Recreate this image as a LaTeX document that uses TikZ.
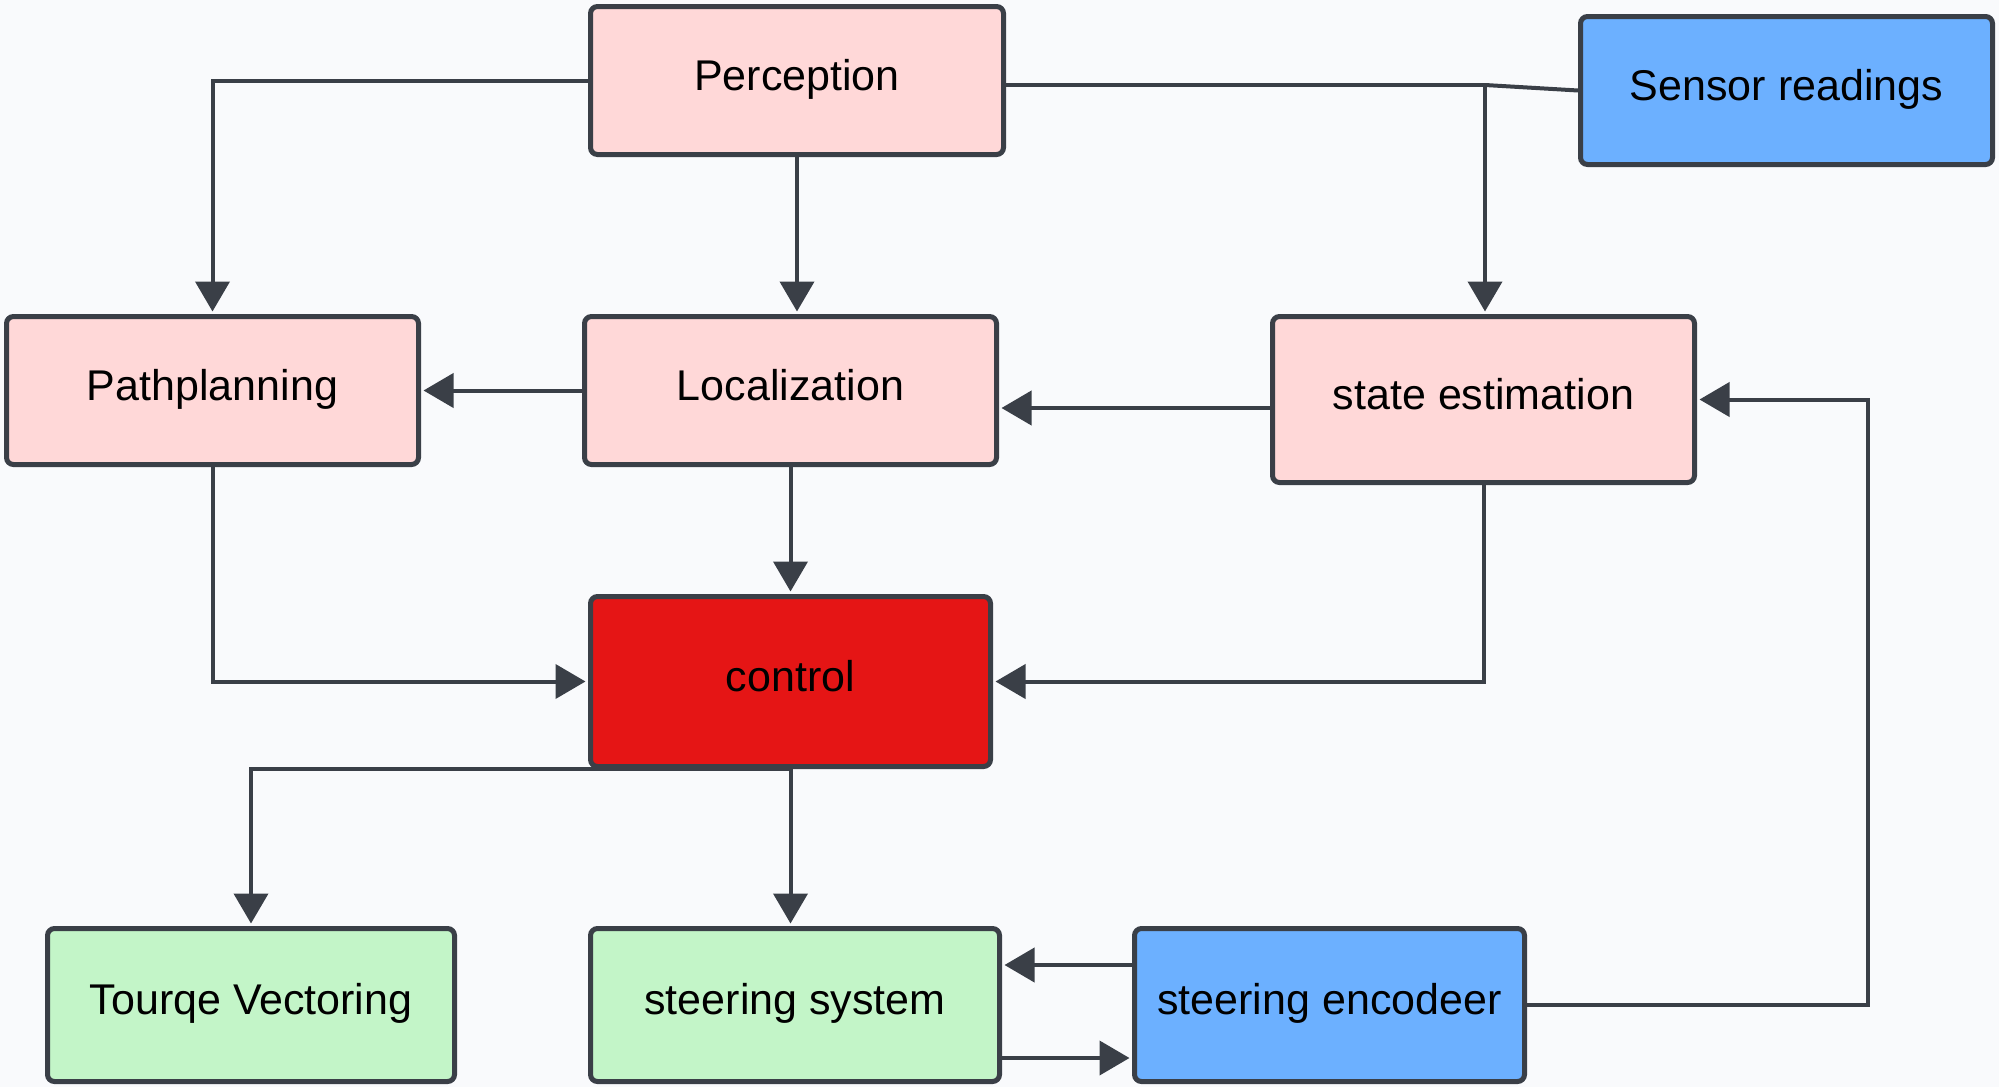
\documentclass[tikz,border=0pt]{standalone}
\usepackage{fontspec}
\setmainfont{Liberation Sans}
\usetikzlibrary{arrows.meta,calc}
\definecolor{bgc}{HTML}{F9FAFC}
\definecolor{lnc}{HTML}{3A3F47}
\definecolor{pinkf}{HTML}{FFD8D8}
\definecolor{bluef}{HTML}{6CB0FF}
\definecolor{redf}{HTML}{E51515}
\definecolor{greenf}{HTML}{C3F5C8}
\tikzset{
  box/.style={draw=lnc, line width=5pt, rounded corners=7pt, inner sep=0pt,
    font=\fontsize{43}{50}\selectfont, text height=31pt, text depth=12pt, align=center},
  pinkbox/.style={box, fill=pinkf},
  bluebox/.style={box, fill=bluef},
  redbox/.style={box, fill=redf},
  greenbox/.style={box, fill=greenf},
  conn/.style={draw=lnc, line width=4pt, -{Triangle[width=34pt,length=30pt]}, shorten >=2.5pt},
  plain/.style={draw=lnc, line width=4pt}
}
\begin{document}
\begin{tikzpicture}[x=1pt,y=-1pt]
\useasboundingbox (0,0) rectangle (1999,1087);
\fill[bgc] (0,0) rectangle (1999,1087);

\node[pinkbox, minimum width=413pt, minimum height=148pt] (perc) at (797,80.5) {Perception};
\node[bluebox, minimum width=412pt, minimum height=148pt] (sensor) at (1786.5,90.5) {Sensor readings};
\node[pinkbox, minimum width=412pt, minimum height=148pt] (path) at (212.5,390.5) {Pathplanning};
\node[pinkbox, minimum width=412pt, minimum height=148pt] (loc) at (790.5,390.5) {Localization};
\node[pinkbox, minimum width=422pt, minimum height=166pt] (se) at (1483.5,399.5) {state estimation};
\node[redbox, minimum width=400pt, minimum height=170pt] (ctrl) at (790.5,681.5) {control};
\node[greenbox, minimum width=407pt, minimum height=153pt] (tv) at (251,1005) {Tourqe Vectoring};
\node[greenbox, minimum width=409pt, minimum height=153pt] (ss) at (795,1005) {steering system};
\node[bluebox, minimum width=390pt, minimum height=153pt] (enc) at (1329.5,1005) {steering encodeer};

\coordinate (j1) at (1485,85);
\coordinate (fb) at (1868,700);
\coordinate (sew) at ([yshift=-8.5pt]se.west);
\coordinate (encw) at ([yshift=40pt]enc.west);
\coordinate (sse) at ([yshift=-53pt]ss.east);

\draw[conn] (perc.west) -| (path.north);
\draw[conn] (perc.south) -- (perc.south |- loc.north);
\draw[conn] (perc.east |- j1) -- (j1) -- (j1 |- se.north);
\draw[plain] (sensor.west) -- (j1);
\draw[conn] (loc.west) -- (path.east);
\draw[conn] (sew) -- (loc.east |- sew);
\draw[conn] (loc.south) -- (ctrl.north);
\draw[conn] (path.south) |- (ctrl.west);
\draw[conn] (se.south) |- (ctrl.east);
\draw[conn] (ctrl.south) -| (tv.north);
\draw[conn] (ctrl.south) -- (ctrl.south |- ss.north);
\draw[conn] (encw) -- (ss.east |- encw);
\draw[conn] (sse) -- (enc.west |- sse);
\draw[conn] (enc.east) -| (fb) |- (se.east);
\end{tikzpicture}
\end{document}
